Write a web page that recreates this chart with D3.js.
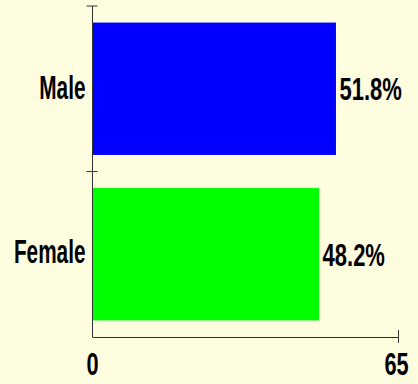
<!DOCTYPE html>
<html>
<head>
<meta charset="utf-8">
<script src="https://cdn.jsdelivr.net/npm/d3@7"></script>
<style>
  body { margin: 0; background: #fffde0; }
  svg { display: block; }
  text { font-family: "Liberation Sans", Arial, sans-serif; font-weight: bold; fill: #000; }
</style>
</head>
<body>
<svg width="418" height="384"></svg>
<script>
const categories = ["Male", "Female"];
const values = [51.8, 48.2];
const colors = ["#0000ff", "#00ff00"];
const xTicks = [0, 65];

const svg = d3.select("svg");
const width = 418, height = 384;

svg.append("rect")
    .attr("width", width)
    .attr("height", height)
    .attr("fill", "#fffde0");

const x = d3.scaleLinear().domain([0, 65]).range([92.5, 398]);
const y = d3.scaleBand()
    .domain(categories)
    .range([6, 337])
    .paddingInner(0.2)
    .paddingOuter(0.1);

// the original glyphs are tall and condensed: squeeze them horizontally
function squeeze(tx, ty, sx) {
  return "translate(" + tx + "," + ty + ") scale(" + sx + ",1)";
}

// bars
svg.selectAll(".bar")
    .data(values)
    .join("rect")
    .attr("class", "bar")
    .attr("x", x(0))
    .attr("y", function(d, i) { return y(categories[i]); })
    .attr("width", function(d) { return x(d) - x(0); })
    .attr("height", y.bandwidth())
    .attr("fill", function(d, i) { return colors[i]; });

// y axis line + ticks at band boundaries
const axisColor = "#333";
svg.append("line")
    .attr("x1", x(0)).attr("x2", x(0))
    .attr("y1", y.range()[0]).attr("y2", y.range()[1])
    .attr("stroke", axisColor);

const boundaries = [y.range()[0], y.range()[0] + (y.range()[1] - y.range()[0]) / categories.length];
svg.selectAll(".ytick")
    .data(boundaries)
    .join("line")
    .attr("class", "ytick")
    .attr("x1", x(0) - 6).attr("x2", x(0) + 5)
    .attr("y1", function(d) { return d; })
    .attr("y2", function(d) { return d; })
    .attr("stroke", axisColor);

// x axis
const xAxis = svg.append("g")
    .attr("transform", "translate(0," + y.range()[1] + ")")
    .call(d3.axisBottom(x).tickValues(xTicks).tickSize(6).tickFormat(""));
xAxis.select(".domain").attr("d", "M" + x(0) + ",0.5H" + x(65)).attr("stroke", axisColor);
xAxis.selectAll(".tick line")
    .attr("y1", -7).attr("y2", 6)
    .attr("stroke", axisColor)
    .attr("display", function(d) { return d === 0 ? "none" : null; });

// x tick labels
svg.selectAll(".xlabel")
    .data(xTicks)
    .join("text")
    .attr("class", "xlabel")
    .attr("text-anchor", "middle")
    .attr("font-size", 32)
    .attr("transform", function(d) {
      return squeeze(d === 0 ? x(d) : x(d) - 1.5, y.range()[1] + 38, 0.68);
    })
    .text(function(d) { return d; });

// category labels
svg.selectAll(".catlabel")
    .data(categories)
    .join("text")
    .attr("class", "catlabel")
    .attr("text-anchor", "end")
    .attr("font-size", 33)
    .attr("transform", function(d, i) {
      return squeeze(x(0) - 7, y(d) + y.bandwidth() / 2 + (i === 0 ? 10.5 : 8.5), 0.63);
    })
    .text(function(d) { return d; });

// value labels
svg.selectAll(".vallabel")
    .data(values)
    .join("text")
    .attr("class", "vallabel")
    .attr("font-size", 31)
    .attr("transform", function(d, i) {
      return squeeze(x(d) + 3.5, y(categories[i]) + y.bandwidth() / 2 + 11.5, 0.71);
    })
    .text(function(d) { return d.toFixed(1) + "%"; });
</script>
</body>
</html>
